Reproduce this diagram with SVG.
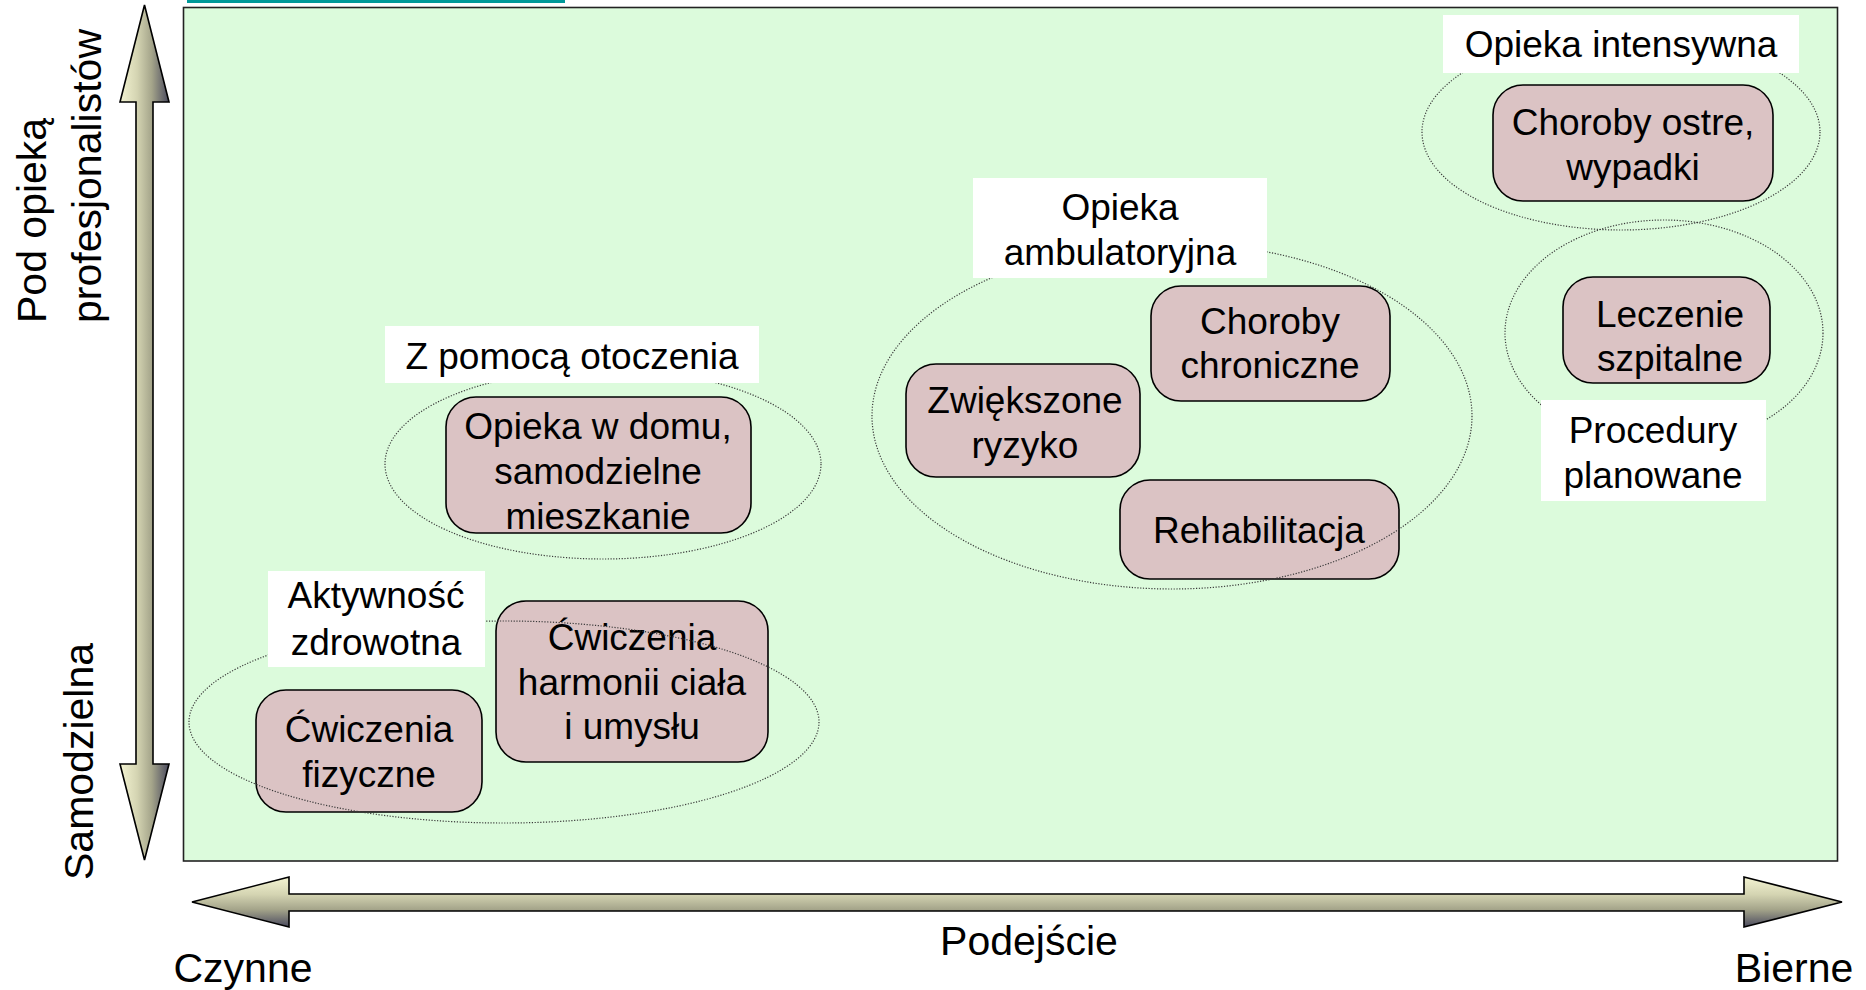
<svg xmlns="http://www.w3.org/2000/svg" width="1866" height="990" viewBox="0 0 1866 990">
<defs>
<linearGradient id="gv" x1="0" y1="0" x2="1" y2="0">
<stop offset="0" stop-color="#F4F4D2"/><stop offset="0.35" stop-color="#D4D4B2"/><stop offset="0.65" stop-color="#A4A48A"/><stop offset="1" stop-color="#4A4A5E"/>
</linearGradient>
<linearGradient id="gh" x1="0" y1="0" x2="0" y2="1">
<stop offset="0" stop-color="#F4F4D2"/><stop offset="0.35" stop-color="#D4D4B2"/><stop offset="0.65" stop-color="#A4A48A"/><stop offset="1" stop-color="#4A4A5E"/>
</linearGradient>
<style>
.box{fill:#DBC3C4;stroke:#000;stroke-width:1.6}
.lbl{fill:#fff}
.ell{fill:none;stroke:#3a3a3a;stroke-width:1.2;stroke-dasharray:1.2 1.6}
.t{font-family:"Liberation Sans",Arial,sans-serif;font-size:37px;fill:#000;text-anchor:middle}
.ax{font-family:"Liberation Sans",Arial,sans-serif;font-size:41px;fill:#000}
.arr{stroke:#000;stroke-width:1.6;stroke-linejoin:miter}
</style>
</defs>
<rect width="1866" height="990" fill="#fff"/>
<line x1="187" y1="1.5" x2="565" y2="1.5" stroke="#009999" stroke-width="3"/>
<rect id="plane" x="183.5" y="7.5" width="1654" height="853.5" fill="#DCFBDC" stroke="#222" stroke-width="1.6"/>

<g id="axes">
<polygon class="arr" fill="url(#gv)" points="144.5,5 169,102 153,102 153,764 169,764 144.5,860 120,764 136,764 136,102 120,102"/>
<polygon class="arr" fill="url(#gh)" points="192,902 289,877 289,894 1744,894 1744,877 1842,902 1744,927 1744,911 289,911 289,927"/>
<text class="ax" transform="translate(46,323) rotate(-90)">Pod opieką</text>
<text class="ax" transform="translate(101,323) rotate(-90)">profesjonalistów</text>
<text class="ax" transform="translate(93,880) rotate(-90)">Samodzielna</text>
<text class="ax" x="1029" y="955" text-anchor="middle">Podejście</text>
<text class="ax" x="243" y="982" text-anchor="middle">Czynne</text>
<text class="ax" x="1794" y="982" text-anchor="middle">Bierne</text>
</g>

<g id="box-cwiczenia-fizyczne"><rect class="box" x="256" y="690" width="226" height="122" rx="30"/>
<text class="t" x="369" y="742">Ćwiczenia</text><text class="t" x="369" y="787">fizyczne</text></g>
<g id="box-cwiczenia-harmonii"><rect class="box" x="496" y="601" width="272" height="161" rx="30"/>
<text class="t" x="632" y="650">Ćwiczenia</text><text class="t" x="632" y="695">harmonii ciała</text><text class="t" x="632" y="739">i umysłu</text></g>
<g id="box-opieka-w-domu"><rect class="box" x="446" y="397" width="305" height="136" rx="30"/>
<text class="t" x="598" y="439">Opieka w domu,</text><text class="t" x="598" y="484">samodzielne</text><text class="t" x="598" y="529">mieszkanie</text></g>
<g id="box-zwiekszone"><rect class="box" x="906" y="364" width="234" height="113" rx="30"/>
<text class="t" x="1025" y="413">Zwiększone</text><text class="t" x="1025" y="458">ryzyko</text></g>
<g id="box-choroby-chroniczne"><rect class="box" x="1151" y="286" width="239" height="115" rx="30"/>
<text class="t" x="1270" y="334">Choroby</text><text class="t" x="1270" y="378">chroniczne</text></g>
<g id="box-rehabilitacja"><rect class="box" x="1120" y="480" width="279" height="99" rx="30"/>
<text class="t" x="1259" y="543">Rehabilitacja</text></g>
<g id="box-choroby-ostre"><rect class="box" x="1493" y="85" width="280" height="116" rx="30"/>
<text class="t" x="1633" y="135">Choroby ostre,</text><text class="t" x="1633" y="180">wypadki</text></g>
<g id="box-leczenie"><rect class="box" x="1563" y="277" width="207" height="106" rx="30"/>
<text class="t" x="1670" y="327">Leczenie</text><text class="t" x="1670" y="371">szpitalne</text></g>

<g id="group-aktywnosc">
<ellipse class="ell" cx="504" cy="722" rx="315" ry="101"/>
<rect class="lbl" x="268" y="571" width="217" height="96"/>
<text class="t" x="376" y="608">Aktywność</text><text class="t" x="376" y="655">zdrowotna</text>
</g>
<g id="group-z-pomoca">
<ellipse class="ell" cx="603" cy="464" rx="218" ry="95"/>
<rect class="lbl" x="385" y="326" width="374" height="57"/>
<text class="t" x="572" y="369">Z pomocą otoczenia</text>
</g>
<g id="group-ambulatoryjna">
<ellipse class="ell" cx="1172" cy="416" rx="300" ry="173"/>
<rect class="lbl" x="973" y="178" width="294" height="100"/>
<text class="t" x="1120" y="220">Opieka</text><text class="t" x="1120" y="265">ambulatoryjna</text>
</g>
<g id="group-intensywna">
<ellipse class="ell" cx="1621" cy="132" rx="199" ry="98"/>
<rect class="lbl" x="1443" y="15" width="356" height="58"/>
<text class="t" x="1621" y="57">Opieka intensywna</text>
</g>
<g id="group-procedury">
<ellipse class="ell" cx="1664" cy="333" rx="159" ry="113"/>
<rect class="lbl" x="1541" y="400" width="225" height="101"/>
<text class="t" x="1653" y="443">Procedury</text><text class="t" x="1653" y="488">planowane</text>
</g>
</svg>
